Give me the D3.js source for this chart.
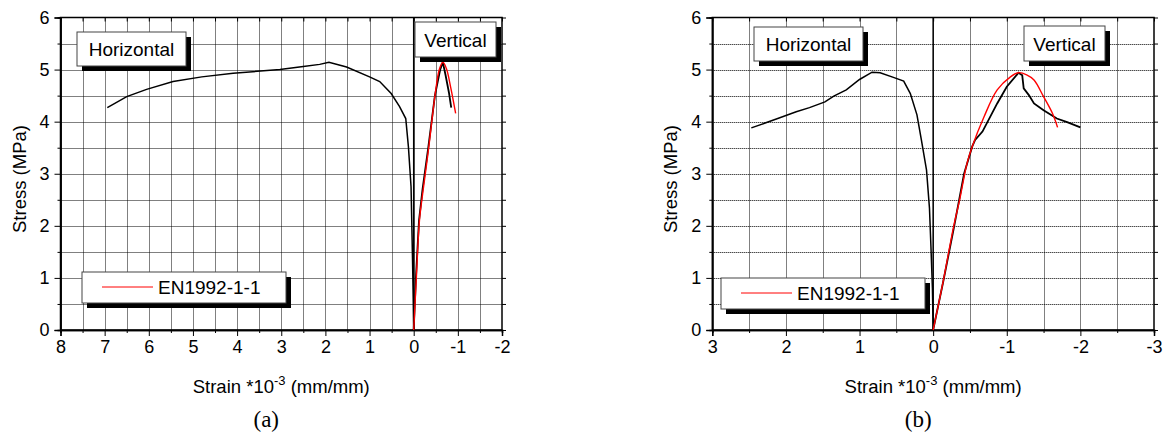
<!DOCTYPE html>
<html>
<head>
<meta charset="utf-8">
<script src="https://cdnjs.cloudflare.com/ajax/libs/d3/7.8.5/d3.min.js"></script>
<style>
  body { margin: 0; background: #fff; }
  text { font-family: "Liberation Sans", Arial, sans-serif; fill: #000; }
</style>
</head>
<body>
<div id="chart"></div>
<script>
// panel (a) data: [strain *10^-3, stress MPa]
const horizA = [[6.94,4.27],[6.5,4.48],[6.05,4.62],[5.45,4.77],[4.8,4.86],[4.09,4.93],[3.03,5.0],[2.5,5.06],[2.13,5.1],[1.92,5.14],[1.52,5.05],[1.0,4.86],[0.77,4.77],[0.51,4.54],[0.32,4.29],[0.18,4.06],[0.12,3.52],[0.06,2.75],[0.03,1.5],[0.01,0.58],[0,0]];
const vertA = [[0,0],[-0.05,1.0],[-0.12,2.1],[-0.2,2.7],[-0.33,3.5],[-0.48,4.5],[-0.6,5.0],[-0.66,5.14],[-0.72,4.9],[-0.8,4.55],[-0.85,4.27]];
const enA = [[0,0],[-0.06,1.0],[-0.13,2.1],[-0.2,2.6],[-0.34,3.5],[-0.49,4.55],[-0.58,5.0],[-0.66,5.14],[-0.74,5.02],[-0.84,4.65],[-0.95,4.16]];
const xTicksA = [8,7,6,5,4,3,2,1,0,-1,-2];

// panel (b) data
const horizB = [[2.47,3.88],[2.13,4.05],[1.86,4.19],[1.68,4.27],[1.47,4.38],[1.35,4.49],[1.18,4.61],[1.0,4.81],[0.83,4.95],[0.72,4.94],[0.54,4.85],[0.4,4.78],[0.31,4.54],[0.22,4.13],[0.16,3.65],[0.09,3.07],[0.05,2.34],[0.03,1.6],[0.01,0.8],[0,0]];
const vertB = [[0,0],[-0.14,0.95],[-0.28,1.95],[-0.42,3.0],[-0.53,3.52],[-0.57,3.65],[-0.67,3.81],[-0.87,4.35],[-1.0,4.67],[-1.16,4.94],[-1.21,4.89],[-1.23,4.64],[-1.3,4.51],[-1.37,4.35],[-1.5,4.22],[-1.68,4.06],[-1.82,3.99],[-2.0,3.89]];
const enB = [[0,0],[-0.14,0.96],[-0.28,2.0],[-0.36,2.5],[-0.46,3.2],[-0.53,3.52],[-0.69,4.09],[-0.87,4.61],[-1.05,4.86],[-1.16,4.94],[-1.27,4.9],[-1.37,4.8],[-1.5,4.48],[-1.62,4.16],[-1.69,3.89]];
const xTicksB = [3,2,1,0,-1,-2,-3];

const yTicks = [0,1,2,3,4,5,6];

const svg = d3.select('#chart')
  .append('svg')
  .attr('width', 1163)
  .attr('height', 435);

svg.append('rect').attr('width', 1163).attr('height', 435).attr('fill', '#fff');

function halfSteps(a, b) {
  const out = [];
  const lo = Math.min(a, b), hi = Math.max(a, b);
  for (let v = lo; v <= hi + 1e-9; v += 0.5) out.push(+v.toFixed(2));
  return out;
}

function textBox(g, x, y, w, h, label) {
  g.append('rect')
    .attr('x', x + 5).attr('y', y + 5)
    .attr('width', w).attr('height', h)
    .attr('fill', '#000');
  g.append('rect')
    .attr('x', x).attr('y', y)
    .attr('width', w).attr('height', h)
    .attr('fill', '#fff')
    .attr('stroke', '#444')
    .attr('stroke-width', 1);
  g.append('text')
    .attr('x', x + w / 2).attr('y', y + h / 2 + 7)
    .attr('text-anchor', 'middle')
    .style('font-size', '19px')
    .text(label);
}

function drawPanel(p) {
  const x = d3.scaleLinear().domain(p.xDomain).range([p.left, p.right]);
  const y = d3.scaleLinear().domain([0, 6]).range([330, 17.5]);
  const g = svg.append('g');

  const xs = halfSteps(p.xDomain[0], p.xDomain[1]);
  const ys = halfSteps(0, 6);

  // dotted grid
  g.append('g').selectAll('line')
    .data(xs.filter(v => v !== p.xDomain[0] && v !== p.xDomain[1]))
    .join('line')
    .attr('x1', d => Math.round(x(d)) + 0.5).attr('x2', d => Math.round(x(d)) + 0.5)
    .attr('y1', y(6)).attr('y2', y(0))
    .attr('stroke', '#000').attr('stroke-width', 1)
    .attr('stroke-dasharray', '1,1');
  g.append('g').selectAll('line')
    .data(ys.filter(v => v !== 0 && v !== 6))
    .join('line')
    .attr('x1', p.left).attr('x2', p.right)
    .attr('y1', d => Math.round(y(d)) + 0.5).attr('y2', d => Math.round(y(d)) + 0.5)
    .attr('stroke', '#000').attr('stroke-width', 1)
    .attr('stroke-dasharray', '1,1');

  // zero line
  g.append('line')
    .attr('x1', x(0)).attr('x2', x(0))
    .attr('y1', y(6)).attr('y2', y(0))
    .attr('stroke', '#000').attr('stroke-width', 1.5);

  // axes (plain hyphen minus like the original)
  const fmt = d => String(d);
  const xAxis = d3.axisBottom(x).tickValues(p.xTicks).tickSize(6).tickPadding(4).tickFormat(fmt);
  const xMinor = d3.axisBottom(x).tickValues(xs.filter(v => v % 1 !== 0)).tickSize(3).tickFormat('');
  const xTop = d3.axisBottom(x).tickValues(xs).tickSize(4).tickFormat('');
  const yAxis = d3.axisLeft(y).tickValues(yTicks).tickSize(6).tickPadding(5).tickFormat(fmt);
  const yMinor = d3.axisLeft(y).tickValues(ys.filter(v => v % 1 !== 0)).tickSize(3).tickFormat('');
  const yRight = d3.axisLeft(y).tickValues(ys).tickSize(4).tickFormat('');

  g.append('g').attr('transform', 'translate(0,330)').call(xAxis);
  g.append('g').attr('transform', 'translate(0,330)').call(xMinor);
  g.append('g').attr('transform', `translate(0,${y(6)})`).call(xTop).select('.domain').remove();
  g.append('g').attr('transform', `translate(${p.left},0)`).call(yAxis);
  g.append('g').attr('transform', `translate(${p.left},0)`).call(yMinor);
  g.append('g').attr('transform', `translate(${p.right + 4},0)`).call(yRight).select('.domain').remove();

  g.selectAll('.domain').attr('stroke-width', 1.5);
  g.selectAll('.tick line').attr('stroke', '#000');
  g.selectAll('.tick text').style('font-size', '18px').style('font-family', '"Liberation Sans", Arial, sans-serif');

  g.append('rect')
    .attr('x', p.left).attr('y', y(6))
    .attr('width', p.right - p.left).attr('height', y(0) - y(6))
    .attr('fill', 'none').attr('stroke', '#000').attr('stroke-width', 1.5);

  // curves
  const line = d3.line().x(d => x(d[0])).y(d => y(d[1]));
  const smooth = d3.line().x(d => x(d[0])).y(d => y(d[1])).curve(d3.curveCatmullRom);
  g.append('path').datum(p.horiz)
    .attr('fill', 'none').attr('stroke', '#000').attr('stroke-width', 1.5)
    .attr('d', line);
  g.append('path').datum(p.vert)
    .attr('fill', 'none').attr('stroke', '#000').attr('stroke-width', 1.8)
    .attr('d', line);
  g.append('path').datum(p.en)
    .attr('fill', 'none').attr('stroke', '#f00').attr('stroke-width', 1.4)
    .attr('d', smooth);

  // boxes
  textBox(g, p.hBox[0], p.hBox[1], 109, 34, 'Horizontal');
  textBox(g, p.vBox[0], p.vBox[1], 81, 35, 'Vertical');

  // legend
  const lg = g.append('g');
  lg.append('rect')
    .attr('x', p.leg[0] + 5).attr('y', p.leg[1] + 5)
    .attr('width', 204).attr('height', 31).attr('fill', '#000');
  lg.append('rect')
    .attr('x', p.leg[0]).attr('y', p.leg[1])
    .attr('width', 204).attr('height', 31)
    .attr('fill', '#fff').attr('stroke', '#444').attr('stroke-width', 1);
  lg.append('line')
    .attr('x1', p.leg[0] + 20).attr('x2', p.leg[0] + 71)
    .attr('y1', p.leg[1] + 15).attr('y2', p.leg[1] + 15)
    .attr('stroke', '#f00').attr('stroke-width', 1);
  lg.append('text')
    .attr('x', p.leg[0] + 76).attr('y', p.leg[1] + 22)
    .style('font-size', '19px')
    .text('EN1992-1-1');

  // axis titles
  const cx = (p.left + p.right) / 2;
  const xt = g.append('text')
    .attr('x', cx).attr('y', 393)
    .attr('text-anchor', 'middle')
    .style('font-size', '18.5px');
  xt.append('tspan').text('Strain *10');
  xt.append('tspan').attr('dy', -8).style('font-size', '13px').text('-3');
  xt.append('tspan').attr('dy', 8).text(' (mm/mm)');

  g.append('text')
    .attr('transform', `translate(${p.left - 35},179) rotate(-90)`)
    .attr('text-anchor', 'middle')
    .style('font-size', '18.5px')
    .text('Stress (MPa)');

  g.append('text')
    .attr('x', cx - 15).attr('y', 427)
    .attr('text-anchor', 'middle')
    .style('font-family', '"Liberation Serif", "Times New Roman", serif')
    .style('font-size', '23px')
    .text(p.tag);
}

drawPanel({
  xDomain: [8, -2], left: 60.5, right: 502, xTicks: xTicksA,
  horiz: horizA, vert: vertA, en: enA,
  hBox: [77, 32], vBox: [415, 22], leg: [82, 272], tag: '(a)'
});

drawPanel({
  xDomain: [3, -3], left: 712.3, right: 1154, xTicks: xTicksB,
  horiz: horizB, vert: vertB, en: enB,
  hBox: [754, 27], vBox: [1024, 26], leg: [721, 278], tag: '(b)'
});
</script>
</body>
</html>
